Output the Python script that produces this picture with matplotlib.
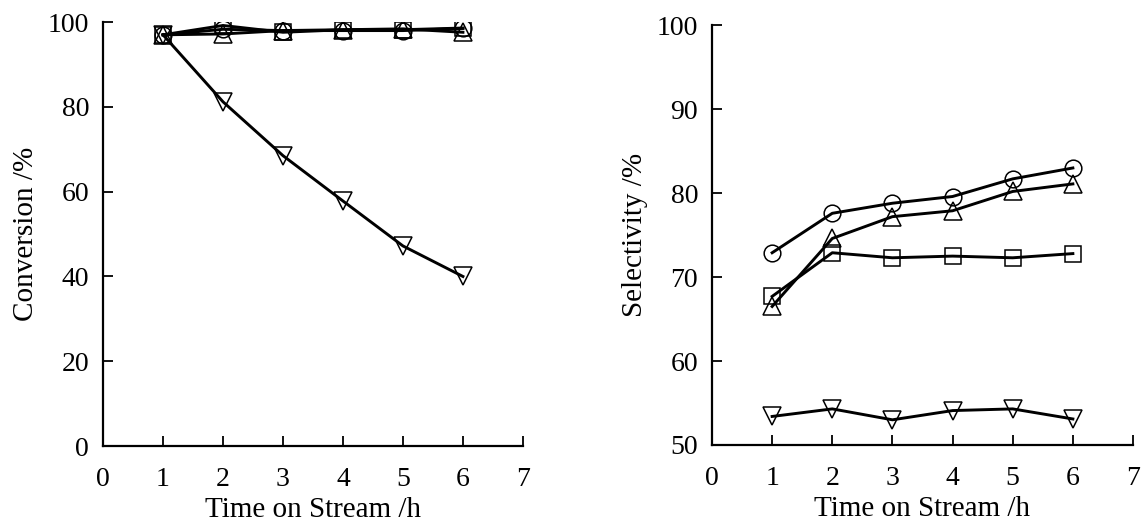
import matplotlib.pyplot as plt

# Data
time_h = [1, 2, 3, 4, 5, 6]

conv_circle = [97.0, 98.3, 98.0, 98.0, 98.0, 98.5]
conv_square = [97.0, 99.2, 97.6, 98.2, 98.2, 98.6]
conv_tri_up = [97.0, 97.2, 98.0, 98.2, 98.4, 97.6]
conv_tri_down = [97.0, 81.2, 68.5, 57.8, 47.2, 40.0]

sel_circle = [72.9, 77.6, 78.8, 79.6, 81.7, 83.0]
sel_square = [67.7, 72.9, 72.3, 72.5, 72.3, 72.8]
sel_tri_up = [66.5, 74.6, 77.2, 77.9, 80.2, 81.1]
sel_tri_down = [53.4, 54.3, 53.0, 54.1, 54.3, 53.1]

plt.rcParams['font.family'] = ['Liberation Serif', 'DejaVu Serif']

fig = plt.figure(figsize=(11.41, 5.26), dpi=100)
ax1 = fig.add_axes([0.0903, 0.152, 0.368, 0.806])
ax2 = fig.add_axes([0.624, 0.154, 0.369, 0.798])

style = dict(color='black', lw=2.1, mfc='none', mec='black', mew=1.1)


def setup(ax, ylim, yticks, ylabel):
    ax.set_xlim(0, 7)
    ax.set_ylim(*ylim)
    ax.set_xticks(range(0, 8))
    ax.set_yticks(yticks)
    for s in ['top', 'right']:
        ax.spines[s].set_visible(False)
    for s in ['left', 'bottom']:
        ax.spines[s].set_linewidth(1.6)
    ax.tick_params(direction='in', length=7, width=1.3, labelsize=20)
    ax.tick_params(axis='y', pad=10)
    ax.tick_params(axis='x', pad=15)
    ax.set_xlabel('Time on Stream /h', fontsize=21, labelpad=4)
    ax.set_ylabel(ylabel, fontsize=21, labelpad=6)


ax1.plot(time_h, conv_tri_down, marker='v', ms=12.5, **style)
ax1.plot(time_h, conv_tri_up, marker='^', ms=12.5, **style)
ax1.plot(time_h, conv_square, marker='s', ms=11.5, **style)
ax1.plot(time_h, conv_circle, marker='o', ms=12, **style)
setup(ax1, (0, 100), range(0, 101, 20), 'Conversion /%')

ax2.plot(time_h, sel_tri_down, marker='v', ms=12.5, **style)
ax2.plot(time_h, sel_tri_up, marker='^', ms=12.5, **style)
ax2.plot(time_h, sel_square, marker='s', ms=11.5, **style)
ax2.plot(time_h, sel_circle, marker='o', ms=12, **style)
setup(ax2, (50, 100), range(50, 101, 10), 'Selectivity /%')

fig.savefig('out.png', dpi=100)
